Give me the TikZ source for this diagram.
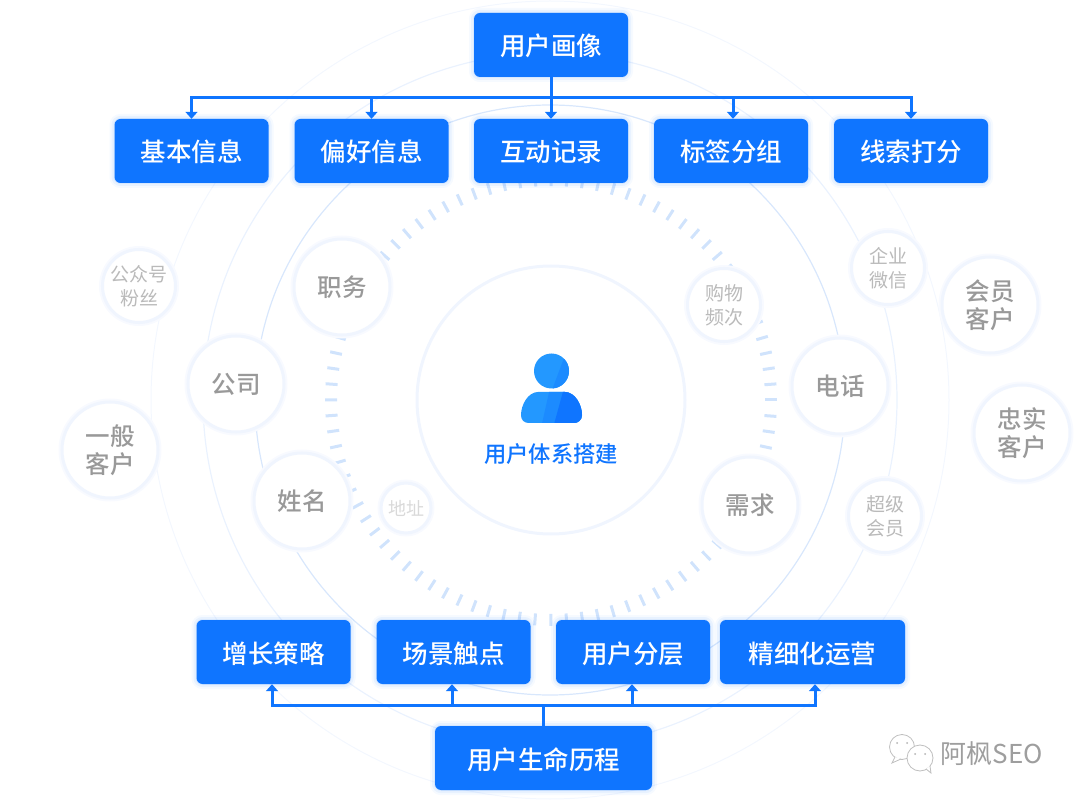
\documentclass[tikz,border=0pt]{standalone}
\usepackage{fontspec}
\setmainfont{Noto Sans CJK SC}[BoldFont={Noto Sans CJK SC Medium}]
\usetikzlibrary{arrows.meta}
\definecolor{boxblue}{HTML}{0F75FF}
\definecolor{iconblue}{HTML}{2398FF}
\definecolor{iconmid}{HTML}{1C8BFF}
\definecolor{ringblue}{HTML}{D8E7FC}
\definecolor{ringmid}{HTML}{EAF2FE}
\definecolor{ringpale}{HTML}{F3F7FE}
\definecolor{tickblue}{HTML}{D0E3FC}
\definecolor{haloblue}{HTML}{F0F5FE}
\definecolor{halopale}{HTML}{F8FAFF}
\begin{document}
\begin{tikzpicture}[x=1pt, y=-1pt,
    bluebox/.style={rectangle, rounded corners=6pt, fill=boxblue, text=white, minimum height=64pt,
        text height=26pt, text depth=4pt,
        font=\fontsize{25.5pt}{30pt}\selectfont\bfseries, inner sep=0pt,
        preaction={draw=boxblue, opacity=0.04, line width=10pt},
        preaction={draw=boxblue, opacity=0.06, line width=6pt},
        preaction={draw=boxblue, opacity=0.08, line width=2pt}},
    bigdot/.style={circle, fill=white, draw=haloblue, line width=3pt, minimum size=96pt, inner sep=0pt, align=center,
        text=black!40, font=\fontsize{24.5pt}{28pt}\selectfont\bfseries,
        preaction={draw=halopale, line width=7pt}},
    smalldot/.style={bigdot, minimum size=73pt, text=black!27, font=\fontsize{19pt}{24pt}\selectfont\mdseries},
    link/.style={draw=boxblue, line width=3pt, -{Triangle[width=12pt, length=7pt]}},
    bus/.style={draw=boxblue, line width=3pt},
    wechat/.style={fill=white, draw=black!25, line width=0.8pt}]
    \useasboundingbox (0,0) rectangle (1080,802);

    % Rings
    \begin{scope}
        \clip (0,0) rectangle (1080,802);
        \draw[ringpale, line width=1pt] (550,400) circle[radius=399pt];
        \draw[ringmid, line width=1.2pt] (550,400) circle[radius=347pt];
        \draw[ringblue, line width=1.2pt] (550,400) circle[radius=295pt];
    \end{scope}

    % Tick ring
    \foreach \a in {0,4.09,...,359}
        \draw[tickblue, line width=3pt] (551,400) ++(\a:214pt) -- ++(\a:12pt);

    % Centre circle
    \draw[haloblue, line width=3pt, fill=white] (551,400) circle[radius=134pt];

    % Round labels
    \node[bigdot] (dotJob) at (342,287) {职务};
    \node[bigdot] (dotCompany) at (236,384) {公司};
    \node[bigdot] (dotName) at (302,501) {姓名};
    \node[bigdot] (dotCommon) at (110,450) {一般\\客户};
    \node[bigdot] (dotPhone) at (840,386) {电话};
    \node[bigdot] (dotNeed) at (750,505) {需求};
    \node[bigdot] (dotMember) at (990,305) {会员\\客户};
    \node[bigdot] (dotLoyal) at (1022,433) {忠实\\客户};
    \node[smalldot] (dotFans) at (139,286) {公众号\\粉丝};
    \node[smalldot] (dotShop) at (724,305) {购物\\频次};
    \node[smalldot] (dotWork) at (888,268) {企业\\微信};
    \node[smalldot] (dotSuper) at (885,516) {超级\\会员};
    \node[smalldot, minimum size=50pt, text=black!15, font=\fontsize{18pt}{22pt}\selectfont\mdseries] (dotAddr) at (406,508) {地址};

    % User icon
    \fill[iconblue] (551.5,371) circle[radius=17.5pt];
    \begin{scope}
        \clip (551.5,371) circle[radius=17.5pt];
        \fill[iconmid] (564,358) -- (552,390) -- (572,390) -- (572,358) -- cycle;
    \end{scope}
    \begin{scope}
        \clip (521,415) .. controls (521,405) and (528,392) .. (538,392) -- (565,392)
            .. controls (575,392) and (582,405) .. (582,415)
            .. controls (582,420) and (578,423) .. (574,423) -- (529,423)
            .. controls (524,423) and (521,420) .. (521,415) -- cycle;
        \fill[iconblue] (515,388) rectangle (590,428);
        \fill[iconmid] (550,388) -- (541,428) -- (590,428) -- (590,388) -- cycle;
        \fill[boxblue] (564,388) -- (553,428) -- (590,428) -- (590,388) -- cycle;
    \end{scope}
    \node[text=boxblue, font=\fontsize{22.3pt}{26pt}\selectfont\bfseries, inner sep=0pt] (mainTitle) at (551,454.5) {用户体系搭建};

    % Top boxes
    \node[bluebox, minimum width=154pt] (boxPortrait) at (551,45) {用户画像};
    \node[bluebox, minimum width=154pt] (boxBasic) at (191.5,151) {基本信息};
    \node[bluebox, minimum width=154pt] (boxLike) at (371.5,151) {偏好信息};
    \node[bluebox, minimum width=154pt] (boxRecord) at (551,151) {互动记录};
    \node[bluebox, minimum width=154pt] (boxTag) at (731,151) {标签分组};
    \node[bluebox, minimum width=154pt] (boxScore) at (911,151) {线索打分};

    % Bottom boxes
    \node[bluebox, minimum width=154pt] (boxGrow) at (273.5,652) {增长策略};
    \node[bluebox, minimum width=154pt] (boxScene) at (453.5,652) {场景触点};
    \node[bluebox, minimum width=154pt] (boxLayer) at (633,652) {用户分层};
    \node[bluebox, minimum width=185pt] (boxOperate) at (812.5,652) {精细化运营};
    \node[bluebox, minimum width=217pt] (boxLife) at (543.5,758) {用户生命历程};

    % Top connectors
    \coordinate (busTop) at (551,98);
    \draw[link] (boxPortrait.south) -- (boxRecord.north);
    \draw[link] (busTop) -| (boxBasic.north);
    \draw[link] (busTop) -| (boxLike.north);
    \draw[link] (busTop) -| ([xshift=2pt]boxTag.north);
    \draw[link] (busTop) -| (boxScore.north);

    % Bottom connectors
    \coordinate (busLow) at (543.5,705);
    \draw[bus] (boxLife.north) -- (busLow);
    \draw[link] (busLow) -| ([xshift=-1.5pt]boxGrow.south);
    \draw[link] (busLow) -| ([xshift=-1.5pt]boxScene.south);
    \draw[link] (busLow) -| ([xshift=-1pt]boxLayer.south);
    \draw[link] (busLow) -| ([xshift=2.5pt]boxOperate.south);

    % Watermark
    \draw[wechat] (902,747) circle[radius=12.5pt];
    \draw[wechat] (895,757) -- (892,763) -- (901,759);
    \fill[black!30] (897,743) circle[radius=1pt] (907,743) circle[radius=1pt];
    \draw[wechat] (920,758) circle[radius=13pt];
    \draw[wechat] (926,769) -- (931,773) -- (930,766);
    \fill[black!30] (915,754) circle[radius=1pt] (925,754) circle[radius=1pt];
    \node[text=black!38, font=\fontsize{26pt}{30pt}\selectfont, inner sep=0pt] (markName) at (992,754) {阿枫SEO};
\end{tikzpicture}
\end{document}
